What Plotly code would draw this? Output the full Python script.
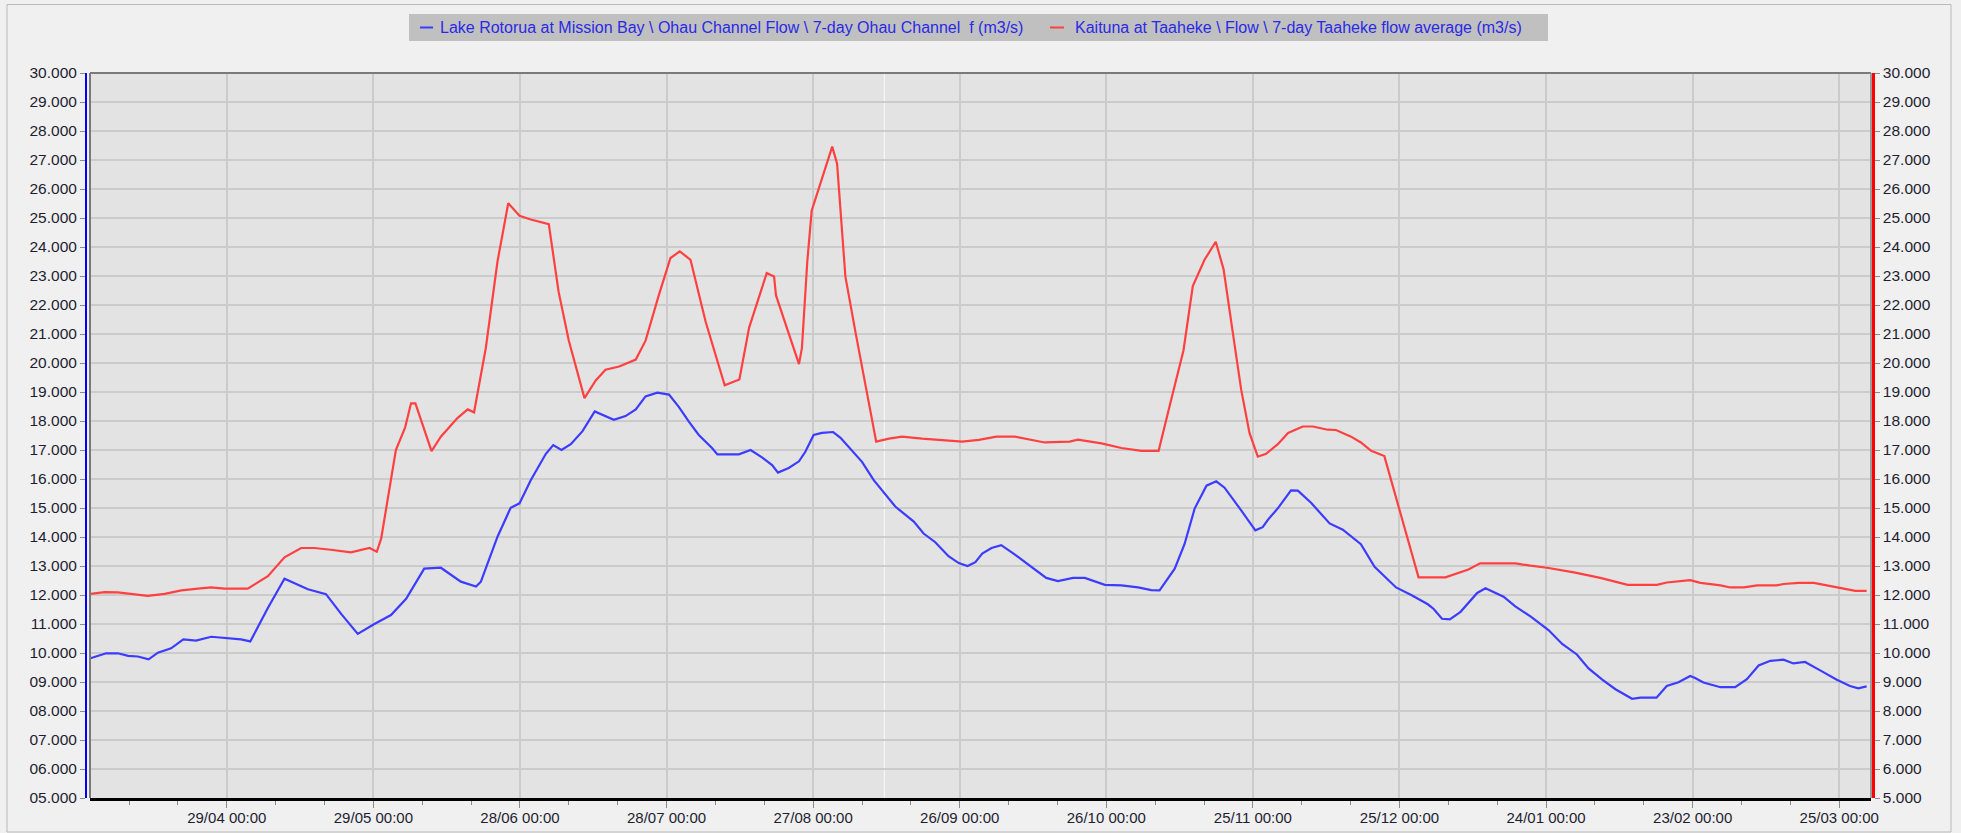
import pandas as pd
import plotly.graph_objects as go

# ---------------- data ----------------
start_date = "2018-04-01"
end_day = 364.5
marker_date = "2018-09-10 14:00"

blue_name = "Lake Rotorua at Mission Bay \\ Ohau Channel Flow \\ 7-day Ohau Channel  f (m3/s)"
red_name = "Kaituna at Taaheke \\ Flow \\ 7-day Taaheke flow average (m3/s)"

blue_days = [0.1, 3.3, 5.7, 7.8, 9.8, 12.0, 13.9, 16.6, 19.1, 21.7, 24.8, 28.2, 30.9, 32.8,
             36.4, 39.8, 44.6, 48.3, 51.4, 54.8, 58.2, 61.6, 64.7, 68.4, 71.8, 75.9, 79.0,
             80.0, 83.4, 86.1, 87.9, 90.2, 91.5, 93.3, 94.8, 96.5, 98.4, 100.8, 103.3, 107.2,
             109.6, 111.7, 113.7, 116.1, 118.5, 120.5, 122.6, 124.6, 127.3, 128.4, 130.7,
             132.8, 135.2, 137.6, 139.6, 140.8, 143.0, 145.1, 146.4, 148.1, 149.8, 152.1,
             153.6, 156.0, 158.0, 160.4, 162.4, 164.8, 168.6, 170.6, 173.0, 175.7, 177.8,
             179.6, 181.2, 182.6, 184.5, 186.5, 189.3, 192.7, 195.7, 198.1, 201.2, 203.6,
             207.7, 211.1, 214.5, 217.2, 218.9, 222.0, 224.0, 226.1, 228.5, 230.5, 232.2,
             235.6, 238.5, 240.0, 241.1, 243.1, 245.8, 247.2, 249.9, 253.7, 256.4, 260.1,
             262.9, 267.3, 270.4, 273.8, 275.0, 276.7, 278.3, 280.5, 282.5, 283.9, 285.6,
             289.3, 291.7, 294.8, 298.5, 301.3, 304.3, 306.7, 309.5, 312.2, 315.6, 317.3,
             320.6, 322.7, 325.1, 327.5, 328.5, 330.2, 333.7, 336.7, 339.1, 341.5, 343.9,
             346.6, 348.6, 351.0, 354.1, 357.5, 360.2, 361.9, 363.6]
blue_vals = [9.82, 9.99, 9.99, 9.90, 9.88, 9.78, 10.01, 10.16, 10.47, 10.43, 10.56, 10.51, 10.47, 10.40,
             11.55, 12.56, 12.20, 12.03, 11.35, 10.66, 11.00, 11.31, 11.87, 12.91, 12.94, 12.46, 12.29,
             12.46, 14.01, 15.01, 15.16, 15.96, 16.35, 16.87, 17.17, 17.00, 17.20, 17.65, 18.33, 18.04,
             18.17, 18.40, 18.85, 18.98, 18.91, 18.49, 17.97, 17.52, 17.07, 16.85, 16.85,
             16.85, 17.00, 16.74, 16.48, 16.22, 16.38, 16.61, 16.94, 17.52, 17.59, 17.62,
             17.42, 16.97, 16.59, 15.96, 15.55, 15.05, 14.53, 14.12, 13.82, 13.34, 13.10,
             13.00, 13.13, 13.43, 13.62, 13.72, 13.39, 12.97, 12.59, 12.48, 12.59, 12.59,
             12.35, 12.33, 12.26, 12.17, 12.16, 12.91, 13.75, 14.99, 15.77, 15.92, 15.70,
             14.92, 14.23, 14.34, 14.60, 14.99, 15.61, 15.60, 15.18, 14.47, 14.25, 13.75,
             12.97, 12.26, 12.00, 11.68, 11.52, 11.18, 11.16, 11.42, 11.81, 12.07, 12.23,
             11.94, 11.61, 11.26, 10.79, 10.31, 9.95, 9.47, 9.08, 8.75, 8.42, 8.46,
             8.46, 8.86, 8.99, 9.21, 9.14, 8.98, 8.82, 8.82, 9.10, 9.57, 9.73,
             9.77, 9.64, 9.69, 9.40, 9.08, 8.86, 8.78, 8.85]

red_days = [0.1, 3.0, 5.7, 8.4, 11.8, 15.3, 18.7, 22.1, 24.8, 27.5, 32.3, 36.4, 39.8, 43.2,
            45.9, 49.3, 53.4, 57.2, 58.7, 59.6, 60.9, 62.6, 64.5, 65.7, 66.6, 69.9, 71.8,
            75.2, 77.3, 78.6, 81.0, 83.4, 85.6, 87.9, 90.2, 92.5, 93.9, 95.9, 98.0, 101.2,
            103.5, 105.5, 108.3, 111.7, 113.7, 116.4, 118.8, 120.7, 122.9, 126.0, 129.9,
            132.9, 134.9, 138.5, 140.0, 140.4, 145.1, 145.7, 146.8, 147.7, 149.8, 151.9,
            152.9, 154.6, 156.7, 159.4, 160.9, 163.5, 166.2, 170.3, 174.4, 178.5, 181.9,
            185.5, 189.3, 192.0, 195.4, 200.5, 202.2, 207.0, 211.1, 215.2, 218.7, 221.3,
            223.8, 225.7, 228.1, 230.4, 232.0, 233.9, 235.6, 237.3, 239.0, 240.7, 243.1,
            245.2, 248.2, 250.3, 253.3, 255.0, 258.1, 260.1, 262.2, 264.9, 267.6, 269.7,
            271.9, 277.4, 280.1, 282.1, 284.5, 291.7, 294.8, 298.2, 303.7, 309.1, 314.7,
            320.7, 322.7, 324.8, 327.5, 329.6, 333.7, 335.7, 338.5, 341.2, 345.2, 346.6,
            349.7, 352.8, 355.5, 358.2, 361.3, 363.6]
red_vals = [12.04, 12.10, 12.09, 12.03, 11.97, 12.04, 12.16, 12.22, 12.26, 12.22, 12.22, 12.65, 13.30, 13.62,
            13.62, 13.56, 13.47, 13.62, 13.49, 13.95, 15.25, 17.00, 17.78, 18.61, 18.61, 16.96, 17.46,
            18.10, 18.40, 18.30, 20.51, 23.50, 25.51, 25.08, 24.95, 24.85, 24.79, 22.46, 20.77, 18.79,
            19.40, 19.77, 19.88, 20.12, 20.77, 22.33, 23.62, 23.85, 23.56, 21.42, 19.23,
            19.43, 21.22, 23.10, 22.98, 22.33, 19.96, 20.51, 23.50, 25.25, 26.35, 27.46,
            26.87, 22.98, 21.03, 18.69, 17.29, 17.39, 17.46, 17.39, 17.35, 17.29, 17.35,
            17.46, 17.46, 17.36, 17.26, 17.29, 17.36, 17.23, 17.07, 16.97, 16.97, 18.75,
            20.44, 22.65, 23.56, 24.18, 23.23, 21.03, 19.08, 17.59, 16.77, 16.87, 17.20,
            17.59, 17.81, 17.81, 17.70, 17.69, 17.46, 17.26, 16.97, 16.79, 15.18, 13.88,
            12.61, 12.61, 12.78, 12.88, 13.09, 13.09, 13.01, 12.94, 12.78, 12.59, 12.35,
            12.35, 12.43, 12.46, 12.51, 12.42, 12.33, 12.26, 12.26, 12.33, 12.33, 12.38,
            12.42, 12.42, 12.33, 12.24, 12.14, 12.14]

y_min, y_max = 5, 30
first_tick = "2018-04-29"
major_days = 30
minor_days = 10

# ---------------- layout geometry (pixels) ----------------
W, H = 1961, 833
ML, MR, MT, MB = 86, 88, 73, 35
PW = W - ML - MR
PH = H - MT - MB
plot_left, plot_right = 90, 1871


def px(x):
    return (x - ML) / PW


def py(y):
    return (H - MB - y) / PH


DAY_MS = 86400000
start = pd.Timestamp(start_date)
bx = start + pd.to_timedelta(blue_days, unit="D")
rx = start + pd.to_timedelta(red_days, unit="D")
x_end = start + pd.Timedelta(days=end_day)

FONT = "Liberation Sans, Arial, sans-serif"
BLUE = "#3c3cff"
RED = "#ff4040"
GRID = "#cbcbcb"

fig = go.Figure()
fig.add_trace(go.Scatter(x=bx, y=blue_vals, mode="lines", name=blue_name,
                         line=dict(color=BLUE, width=2.2), yaxis="y", showlegend=False))
fig.add_trace(go.Scatter(x=rx, y=red_vals, mode="lines", name=red_name,
                         line=dict(color=RED, width=2.2), yaxis="y2", showlegend=False))

tickfont = dict(family=FONT, size=15, color="#1e1e30")
ytickfont = dict(family=FONT, size=15.5, color="#1e1e30")

fig.update_layout(
    width=W, height=H,
    autosize=False,
    margin=dict(l=ML, r=MR, t=MT, b=MB, pad=0, autoexpand=False),
    paper_bgcolor="#f0f0f0",
    plot_bgcolor="#e3e3e3",
    font=dict(family=FONT, size=15, color="#1e1e30"),
    showlegend=False,
    xaxis=dict(
        type="date",
        domain=[px(plot_left), px(plot_right)],
        anchor="y",
        automargin=False,
        range=[start, x_end],
        tickmode="linear", tick0=first_tick, dtick=major_days * DAY_MS,
        tickformat="%d/%m %H:%M",
        showgrid=True, gridcolor=GRID, gridwidth=1.5,
        ticks="outside", ticklen=7, tickcolor="#8a8a8a", tickwidth=1,
        ticklabelstandoff=-3,
        showline=True, linecolor="#000000", linewidth=3,
        zeroline=False,
        tickfont=tickfont,
        minor=dict(dtick=minor_days * DAY_MS, tick0=first_tick, ticks="outside",
                   ticklen=4, tickcolor="#8a8a8a", showgrid=False),
    ),
    yaxis=dict(
        range=[y_min, y_max], tick0=y_min, dtick=1, tickformat="06.3f",
        anchor="free", position=0, side="left", automargin=False,
        showgrid=True, gridcolor=GRID, gridwidth=1.5,
        showline=True, linecolor="#0000ff", linewidth=2,
        ticks="outside", ticklen=5, tickcolor="#8a8a8a",
        zeroline=False, tickfont=ytickfont,
    ),
    yaxis2=dict(
        range=[y_min, y_max], tick0=y_min, dtick=1, tickformat=".3f",
        overlaying="y", anchor="free", position=1, side="right", automargin=False,
        showgrid=False,
        showline=True, linecolor="#ff0000", linewidth=2.5,
        ticks="outside", ticklen=5, tickcolor="#8a8a8a",
        zeroline=False, tickfont=ytickfont,
    ),
)

shapes = []
# light marker line
shapes.append(dict(type="line", xref="x", yref="paper", x0=marker_date, x1=marker_date, y0=0, y1=1,
                   line=dict(color="#f6f6f6", width=1.2), layer="below"))
# plot border (top, left, right)
for x0, y0, x1, y1, c in [(plot_left, 73, plot_right, 73, "#7a7a7a"),
                          (plot_left, 73, plot_left, 798, "#7a7a7a"),
                          (plot_right, 73, plot_right, 798, "#9a9a9a")]:
    shapes.append(dict(type="line", xref="paper", yref="paper", x0=px(x0), y0=py(y0), x1=px(x1), y1=py(y1),
                       line=dict(color=c, width=2), layer="above"))
# outer frame
shapes.append(dict(type="rect", xref="paper", yref="paper", x0=px(7), x1=px(1951), y0=py(832), y1=py(4.5),
                   line=dict(color="#b8b8b8", width=1), fillcolor="rgba(0,0,0,0)", layer="below"))
# legend box
shapes.append(dict(type="rect", xref="paper", yref="paper", x0=px(409), x1=px(1548), y0=py(41), y1=py(14),
                   line=dict(width=0), fillcolor="#c0c0c0", layer="below"))
shapes.append(dict(type="line", xref="paper", yref="paper", x0=px(420), x1=px(433), y0=py(27.5), y1=py(27.5),
                   line=dict(color=BLUE, width=2), layer="above"))
shapes.append(dict(type="line", xref="paper", yref="paper", x0=px(1050), x1=px(1064), y0=py(27.5), y1=py(27.5),
                   line=dict(color=RED, width=2), layer="above"))
fig.update_layout(shapes=shapes)

legend_font = dict(family=FONT, size=16, color="#2a2ae6")
fig.add_annotation(x=px(438), y=py(27.5), xref="paper", yref="paper", xanchor="left", yanchor="middle",
                   text=blue_name, showarrow=False, font=legend_font)
fig.add_annotation(x=px(1073), y=py(27.5), xref="paper", yref="paper", xanchor="left", yanchor="middle",
                   text=red_name, showarrow=False, font=legend_font)

fig.write_html("out.html", config={"displayModeBar": False},
               post_script="document.body.style.margin='0px';")
